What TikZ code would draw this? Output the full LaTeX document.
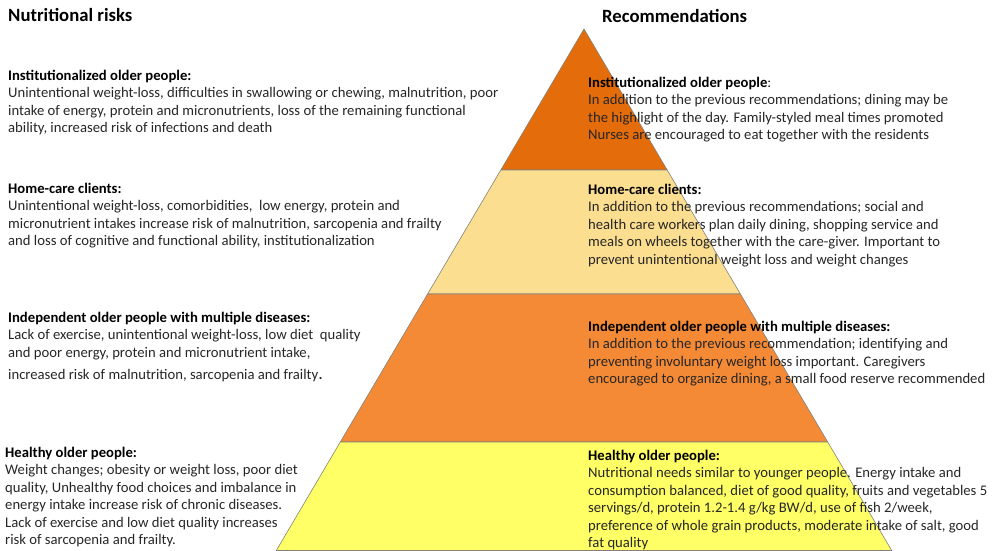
\documentclass[tikz,border=0pt]{standalone}
\usepackage{fontspec}
\setmainfont{Carlito}
\definecolor{tierTop}{RGB}{228,108,10}
\definecolor{tierHome}{RGB}{252,222,144}
\definecolor{tierIndep}{RGB}{245,138,54}
\definecolor{tierHealthy}{RGB}{255,255,102}
\definecolor{edgegray}{RGB}{130,130,120}
\definecolor{bodytext}{RGB}{38,38,38}
\begin{document}
\begin{tikzpicture}[x=1pt,y=-1pt,
  tier/.style={draw=edgegray,line width=0.6pt,line join=round},
  title/.style={anchor=base west,inner sep=0pt,font=\fontsize{18.7}{22}\selectfont\bfseries},
  % blocks are placed by the baseline of their last line
  block/.style={anchor=base west,inner sep=0pt,align=left,text=bodytext,
    font=\fontsize{14.67}{17.5}\selectfont}]
\useasboundingbox (0,0) rectangle (996,551);

% pyramid corners, level by level (sides share one slope)
\coordinate (apex) at (584,29);
\coordinate (l1) at (500.8,170);   \coordinate (r1) at (667.2,170);
\coordinate (l2) at (427.6,294);   \coordinate (r2) at (740.4,294);
\coordinate (l3) at (340.3,442);   \coordinate (r3) at (827.7,442);
\coordinate (l4) at (276.3,550.5); \coordinate (r4) at (891.7,550.5);

\draw[tier,fill=tierTop]     (apex) -- (r1) -- (l1) -- cycle;
\draw[tier,fill=tierHome]    (l1) -- (r1) -- (r2) -- (l2) -- cycle;
\draw[tier,fill=tierIndep]   (l2) -- (r2) -- (r3) -- (l3) -- cycle;
\draw[tier,fill=tierHealthy] (l3) -- (r3) -- (r4) -- (l4) -- cycle;

% column titles
\node[title] (risks) at (8,22) {Nutritional risks};
\node[title] (recs) at (602,23) {Recommendations};

% nutritional risks, left column
\node[block] (riskInst) at (8,132.5) {\textbf{\color{black}Institutionalized older people:}\\
Unintentional weight-loss, difficulties in swallowing or chewing, malnutrition, poor\\
intake of energy, protein and micronutrients, loss of the remaining functional\\
ability, increased risk of infections and death};

\node[block] (riskHome) at (8,245.5) {\textbf{\color{black}Home-care clients:}\\
Unintentional weight-loss, comorbidities,\ \ low energy, protein and\\
micronutrient intakes increase risk of malnutrition, sarcopenia and frailty\\
and loss of cognitive and functional ability, institutionalization};

\node[block] (riskIndep) at (8,379.5) {\textbf{\color{black}Independent older people with multiple diseases:}\\
Lack of exercise, unintentional weight-loss, low diet\ \ quality\\
and poor energy, protein and micronutrient intake,\\[5pt]
increased risk of malnutrition, sarcopenia and frailty{\fontsize{18}{17.5}\selectfont .}};

\node[block] (riskHealthy) at (5,544.5) {\textbf{\color{black}Healthy older people:}\\
Weight changes; obesity or weight loss, poor diet\\
quality, Unhealthy food choices and imbalance in\\
energy intake increase risk of chronic diseases.\\
Lack of exercise and low diet quality increases\\
risk of sarcopenia and frailty.};

% recommendations, right column
\node[block] (recInst) at (588,139.5) {\textbf{\color{black}Institutionalized older people}:\\
In addition to the previous recommendations; dining may be\\
the highlight of the day. Family-styled meal times promoted\\
Nurses are encouraged to eat together with the residents};

\node[block] (recHome) at (588,264) {\textbf{\color{black}Home-care clients:}\\
In addition to the previous recommendations; social and\\
health care workers plan daily dining, shopping service and\\
meals on wheels together with the care-giver. Important to\\
prevent unintentional weight loss and weight changes};

\node[block] (recIndep) at (588,383.5) {\textbf{\color{black}Independent older people with multiple diseases:}\\
In addition to the previous recommendation; identifying and\\
preventing involuntary weight loss important. Caregivers\\
encouraged to organize dining, a small food reserve recommended};

\node[block] (recHealthy) at (588,547.5) {\textbf{\color{black}Healthy older people:}\\
Nutritional needs similar to younger people. Energy intake and\\
consumption balanced, diet of good quality, fruits and vegetables 5\\
servings/d, protein 1.2-1.4 g/kg BW/d, use of fish 2/week,\\
preference of whole grain products, moderate intake of salt, good\\
fat quality};
\end{tikzpicture}
\end{document}
